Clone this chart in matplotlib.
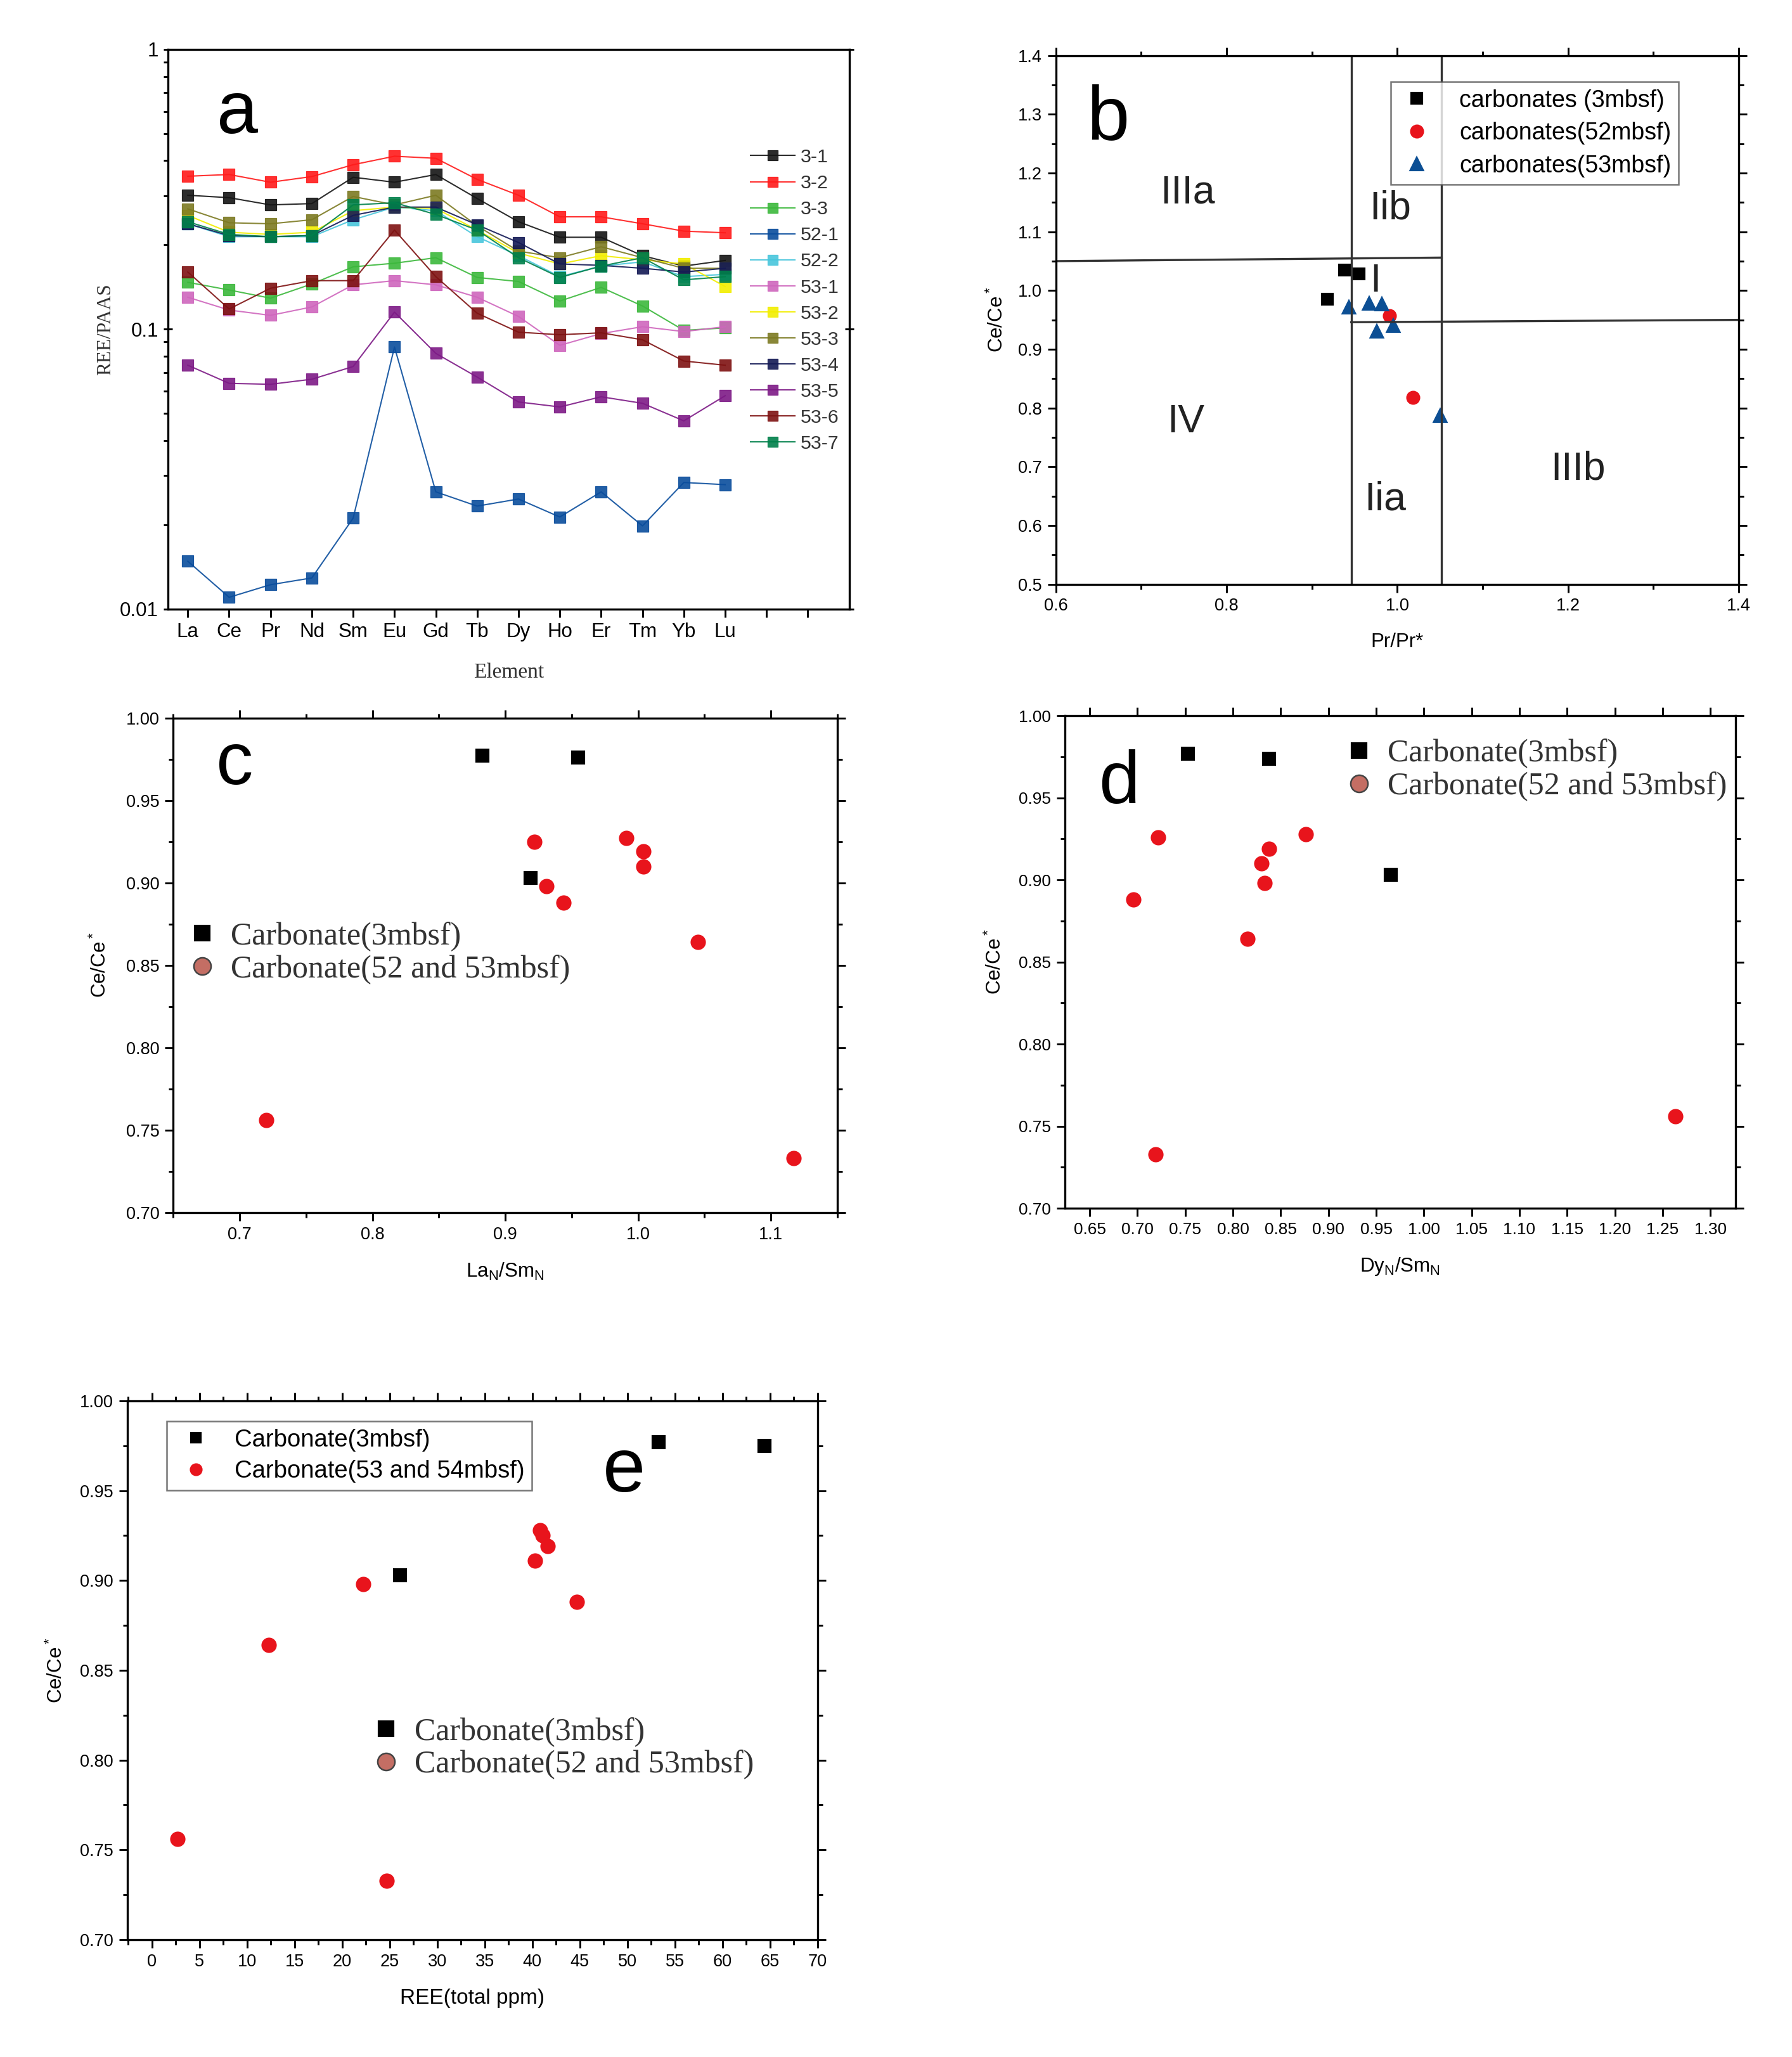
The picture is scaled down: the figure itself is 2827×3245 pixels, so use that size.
import numpy as np
import matplotlib.pyplot as plt
from matplotlib.lines import Line2D
from matplotlib.ticker import MultipleLocator, FixedLocator, NullFormatter, LogLocator

plt.rcParams['font.family'] = ['Liberation Sans', 'DejaVu Sans']
plt.rcParams['mathtext.default'] = 'regular'
plt.rcParams['axes.linewidth'] = 0.8

# ---- panel a : REE/PAAS patterns ----
elements = ['La', 'Ce', 'Pr', 'Nd', 'Sm', 'Eu', 'Gd', 'Tb', 'Dy', 'Ho', 'Er', 'Tm', 'Yb', 'Lu']
sample_names = ['3-1', '3-2', '3-3', '52-1', '52-2', '53-1', '53-2', '53-3', '53-4', '53-5', '53-6', '53-7']
sample_colors = ['#151515', '#ff1a1a', '#3cb83c', '#0a4d9c', '#48c6dc', '#cf66bd', '#f2ee00',
                 '#7c7a22', '#141a55', '#7d1a86', '#7e1212', '#00804a']
ree_3_1 = [0.301, 0.295, 0.278, 0.281, 0.349, 0.335, 0.357, 0.293, 0.242, 0.213, 0.213, 0.183, 0.168, 0.176]
ree_3_2 = [0.352, 0.357, 0.335, 0.351, 0.387, 0.415, 0.408, 0.343, 0.301, 0.252, 0.252, 0.238, 0.224, 0.221]
ree_3_3 = [0.147, 0.138, 0.129, 0.145, 0.167, 0.172, 0.180, 0.153, 0.148, 0.126, 0.141, 0.121, 0.099, 0.101]
ree_52_1 = [0.0148, 0.0110, 0.0122, 0.0129, 0.0211, 0.0863, 0.0262, 0.0233, 0.0247, 0.0213, 0.0262, 0.0198, 0.0283, 0.0278]
ree_52_2 = [0.238, 0.214, 0.214, 0.214, 0.246, 0.273, 0.265, 0.214, 0.183, 0.154, 0.168, 0.174, 0.154, 0.157]
ree_53_1 = [0.130, 0.117, 0.112, 0.120, 0.144, 0.149, 0.144, 0.130, 0.111, 0.0875, 0.0964, 0.102, 0.098, 0.102]
ree_53_2 = [0.255, 0.222, 0.218, 0.222, 0.265, 0.273, 0.270, 0.226, 0.187, 0.171, 0.183, 0.177, 0.171, 0.142]
ree_53_3 = [0.269, 0.240, 0.238, 0.246, 0.298, 0.278, 0.301, 0.234, 0.190, 0.180, 0.197, 0.180, 0.165, 0.165]
ree_53_4 = [0.238, 0.216, 0.214, 0.216, 0.255, 0.273, 0.273, 0.236, 0.204, 0.171, 0.169, 0.165, 0.160, 0.165]
ree_53_5 = [0.0743, 0.0640, 0.0635, 0.0662, 0.0735, 0.115, 0.0819, 0.0674, 0.0549, 0.0527, 0.0573, 0.0543, 0.0470, 0.0578]
ree_53_6 = [0.160, 0.118, 0.140, 0.149, 0.149, 0.226, 0.154, 0.114, 0.0975, 0.0955, 0.0970, 0.0916, 0.0769, 0.0743]
ree_53_7 = [0.242, 0.218, 0.214, 0.216, 0.278, 0.283, 0.257, 0.226, 0.180, 0.153, 0.168, 0.180, 0.150, 0.154]
ree_all = [ree_3_1, ree_3_2, ree_3_3, ree_52_1, ree_52_2, ree_53_1, ree_53_2,
           ree_53_3, ree_53_4, ree_53_5, ree_53_6, ree_53_7]

# ---- panel b : Ce/Ce* vs Pr/Pr* ----
b_pr_3 = [0.918, 0.938, 0.955]
b_ce_3 = [0.985, 1.035, 1.028]
b_pr_52 = [0.991, 1.018]
b_ce_52 = [0.957, 0.818]
b_pr_53 = [0.943, 0.967, 0.982, 0.976, 0.995, 1.050]
b_ce_53 = [0.971, 0.978, 0.977, 0.930, 0.940, 0.787]
b_pr_bounds = [0.946, 1.052]
b_ce_upper = [1.050, 1.056]
b_ce_lower = [0.946, 0.950]
b_zones = ['IIIa', 'Iib', 'I', 'IV', 'Iia', 'IIIb']
b_zone_x = [0.754, 0.992, 0.974, 0.752, 0.986, 1.212]
b_zone_y = [1.167, 1.140, 1.016, 0.776, 0.644, 0.696]

# ---- panel c : Ce/Ce* vs LaN/SmN ----
c_la_3 = [0.883, 0.955, 0.919]
c_ce_3 = [0.977, 0.976, 0.903]
c_la_52 = [0.922, 0.991, 1.004, 1.004, 0.931, 0.944, 1.045, 0.720, 1.117]
c_ce_52 = [0.925, 0.927, 0.919, 0.910, 0.898, 0.888, 0.864, 0.756, 0.733]

# ---- panel d : Ce/Ce* vs DyN/SmN ----
d_dy_3 = [0.753, 0.838, 0.965]
d_ce_3 = [0.977, 0.974, 0.903]
d_dy_52 = [0.722, 0.696, 0.830, 0.838, 0.833, 0.876, 0.815, 0.719, 1.263]
d_ce_52 = [0.926, 0.888, 0.910, 0.919, 0.898, 0.928, 0.864, 0.733, 0.756]

# ---- panel e : Ce/Ce* vs total REE ----
e_ree_3 = [26.1, 53.3, 64.4]
e_ce_3 = [0.903, 0.977, 0.975]
e_ree_53 = [2.7, 12.3, 22.2, 24.7, 40.8, 41.1, 41.6, 40.3, 44.7]
e_ce_53 = [0.756, 0.864, 0.898, 0.733, 0.928, 0.925, 0.919, 0.911, 0.888]

SERIF = ['Liberation Serif', 'DejaVu Serif']


def origin_ticks(ax, size=6.5):
    ax.tick_params(which='both', direction='out', labelsize=size, width=0.7, pad=2)
    ax.tick_params(which='major', length=3.2)
    ax.tick_params(which='minor', length=1.8)
    ax.tick_params(axis='x', which='both', top=True)
    ax.tick_params(axis='y', which='both', right=True)


def serif_legend(ax, loc_xy):
    handles = [Line2D([], [], ls='none', marker='s', color='k', markersize=5.5),
               Line2D([], [], ls='none', marker='o', markerfacecolor='#c46e64',
                      markeredgecolor='#444444', markeredgewidth=0.6, markersize=6.5)]
    leg = ax.legend(handles, ['Carbonate(3mbsf)', 'Carbonate(52 and 53mbsf)'],
                    loc='upper left', bbox_to_anchor=loc_xy, frameon=False,
                    prop={'family': SERIF, 'size': 12}, handlelength=0.8,
                    handletextpad=0.5, labelspacing=0.1, borderpad=0, borderaxespad=0)
    for t in leg.get_texts():
        t.set_color('#333333')
    return leg


fig = plt.figure(figsize=(2828 / 300, 3245 / 300), dpi=300)

# ---------------- a ----------------
ax = fig.add_axes([0.0937, 0.704, 0.380, 0.272])
x = np.arange(len(elements))
for name, col, vals in zip(sample_names, sample_colors, ree_all):
    ax.plot(x, vals, '-', color=col, lw=0.5, alpha=0.9, marker='s', markersize=4.3,
            markerfacecolor=col, markeredgecolor=col, markeredgewidth=0.3, label=name)
ax.set_yscale('log')
ax.set_ylim(0.01, 1)
ax.set_xlim(-0.48, 16.0)
ax.xaxis.set_major_locator(FixedLocator(np.arange(16)))
ax.set_xticklabels(elements + ['', ''])
ax.yaxis.set_major_locator(FixedLocator([0.01, 0.1, 1]))
ax.set_yticklabels(['0.01', '0.1', '1'])
ax.yaxis.set_minor_locator(LogLocator(base=10, subs=np.arange(2, 10)))
ax.yaxis.set_minor_formatter(NullFormatter())
ax.tick_params(which='both', direction='out', width=0.7, labelsize=7.5, pad=2)
ax.tick_params(which='major', length=3.2)
ax.tick_params(which='minor', length=1.8)
ax.tick_params(axis='y', which='major', right=True, direction='inout')
ax.set_xlabel('Element', family=SERIF, fontsize=8, labelpad=8, color='#333333')
ax.set_ylabel('REE/PAAS', family=SERIF, fontsize=7.5, labelpad=2, color='#333333')
leg = ax.legend(loc='upper left', bbox_to_anchor=(0.855, 0.823), frameon=False, fontsize=7.3,
                handlelength=2.3, handletextpad=0.3, labelspacing=0.43, borderpad=0,
                borderaxespad=0, markerscale=0.85)
for t in leg.get_texts():
    t.set_color('#333333')
ax.text(0.072, 0.885, 'a', transform=ax.transAxes, fontsize=28, va='center', ha='left')

# ---------------- b ----------------
ax = fig.add_axes([0.589, 0.716, 0.381, 0.257])
ax.plot(b_pr_3, b_ce_3, ls='none', marker='s', color='k', markersize=4, label='carbonates (3mbsf)')
ax.plot(b_pr_52, b_ce_52, ls='none', marker='o', color='#e8141c', markersize=4.3, label='carbonates(52mbsf)')
ax.plot(b_pr_53, b_ce_53, ls='none', marker='^', color='#0c4f94', markersize=4.3, label='carbonates(53mbsf)')
for xb in b_pr_bounds:
    ax.axvline(xb, color='#333333', lw=0.8)
ax.plot([0.6, b_pr_bounds[1]], b_ce_upper, color='#333333', lw=0.8)
ax.plot([b_pr_bounds[0], 1.4], b_ce_lower, color='#333333', lw=0.8)
for lab, zx, zy in zip(b_zones, b_zone_x, b_zone_y):
    ax.text(zx, zy, lab, fontsize=15, ha='center', va='center', color='#222222')
ax.set_xlim(0.6, 1.4)
ax.set_ylim(0.5, 1.4)
ax.xaxis.set_major_locator(MultipleLocator(0.2))
ax.xaxis.set_minor_locator(MultipleLocator(0.1))
ax.yaxis.set_major_locator(MultipleLocator(0.1))
ax.yaxis.set_minor_locator(MultipleLocator(0.05))
origin_ticks(ax)
ax.set_xlabel('Pr/Pr*', fontsize=7.5, labelpad=7)
ax.set_ylabel('Ce/Ce$^*$', fontsize=7.5, labelpad=4)
ax.legend(loc='upper left', bbox_to_anchor=(0.49, 0.95), fontsize=9, frameon=True, fancybox=False,
          edgecolor='#555555', numpoints=1, handlelength=1.6, handletextpad=1.0,
          labelspacing=0.42, borderpad=0.3, borderaxespad=0).get_frame().set_linewidth(0.6)
ax.text(0.045, 0.88, 'b', transform=ax.transAxes, fontsize=29, va='center', ha='left')

# ---------------- c ----------------
ax = fig.add_axes([0.0966, 0.4105, 0.3705, 0.2405])
ax.plot(c_la_3, c_ce_3, ls='none', marker='s', color='k', markersize=4.3)
ax.plot(c_la_52, c_ce_52, ls='none', marker='o', color='#e8141c', markersize=4.8)
ax.set_xlim(0.65, 1.15)
ax.set_ylim(0.70, 1.00)
ax.xaxis.set_major_locator(MultipleLocator(0.1))
ax.xaxis.set_minor_locator(MultipleLocator(0.05))
ax.yaxis.set_major_locator(MultipleLocator(0.05))
ax.yaxis.set_minor_locator(MultipleLocator(0.025))
ax.xaxis.set_major_formatter(plt.FormatStrFormatter('%.1f'))
ax.yaxis.set_major_formatter(plt.FormatStrFormatter('%.2f'))
origin_ticks(ax)
ax.set_xlabel('La$_N$/Sm$_N$', fontsize=7.5, labelpad=7)
ax.set_ylabel('Ce/Ce$^*$', fontsize=7.5, labelpad=6)
serif_legend(ax, (0.025, 0.588))
ax.text(0.065, 0.905, 'c', transform=ax.transAxes, fontsize=28, va='center', ha='left')

# ---------------- d ----------------
ax = fig.add_axes([0.594, 0.4126, 0.374, 0.2394])
ax.plot(d_dy_3, d_ce_3, ls='none', marker='s', color='k', markersize=4.3)
ax.plot(d_dy_52, d_ce_52, ls='none', marker='o', color='#e8141c', markersize=4.8)
ax.set_xlim(0.624, 1.326)
ax.set_ylim(0.70, 1.00)
ax.xaxis.set_major_locator(MultipleLocator(0.05))
ax.yaxis.set_major_locator(MultipleLocator(0.05))
ax.yaxis.set_minor_locator(MultipleLocator(0.025))
ax.xaxis.set_major_formatter(plt.FormatStrFormatter('%.2f'))
ax.yaxis.set_major_formatter(plt.FormatStrFormatter('%.2f'))
origin_ticks(ax, size=6.3)
ax.set_xlabel('Dy$_N$/Sm$_N$', fontsize=7.5, labelpad=7)
ax.set_ylabel('Ce/Ce$^*$', fontsize=7.5, labelpad=5)
serif_legend(ax, (0.42, 0.953))
ax.text(0.05, 0.862, 'd', transform=ax.transAxes, fontsize=28, va='center', ha='left')

# ---------------- e ----------------
ax = fig.add_axes([0.071, 0.057, 0.385, 0.262])
h3, = ax.plot(e_ree_3, e_ce_3, ls='none', marker='s', color='k', markersize=4.3)
h53, = ax.plot(e_ree_53, e_ce_53, ls='none', marker='o', color='#e8141c', markersize=4.8)
ax.set_xlim(-2.6, 70)
ax.set_ylim(0.70, 1.00)
ax.xaxis.set_major_locator(MultipleLocator(5))
ax.xaxis.set_minor_locator(MultipleLocator(2.5))
ax.yaxis.set_major_locator(MultipleLocator(0.05))
ax.yaxis.set_minor_locator(MultipleLocator(0.025))
ax.yaxis.set_major_formatter(plt.FormatStrFormatter('%.2f'))
origin_ticks(ax)
ax.set_xlabel('REE(total ppm)', fontsize=8, labelpad=7)
ax.set_ylabel('Ce/Ce$^*$', fontsize=7.5, labelpad=5)
leg1 = ax.legend([h3, h53], ['Carbonate(3mbsf)', 'Carbonate(53 and 54mbsf)'], loc='upper left',
                 bbox_to_anchor=(0.057, 0.962), fontsize=9.2, frameon=True, fancybox=False,
                 edgecolor='#555555', numpoints=1, handlelength=1.8, handletextpad=0.7,
                 labelspacing=0.35, borderpad=0.3, borderaxespad=0, markerscale=0.8)
leg1.get_frame().set_linewidth(0.6)
ax.add_artist(leg1)
serif_legend(ax, (0.357, 0.413))
ax.text(0.72, 0.868, 'e', transform=ax.transAxes, fontsize=29, va='center', ha='center')

fig.savefig('out.png', dpi=300)
